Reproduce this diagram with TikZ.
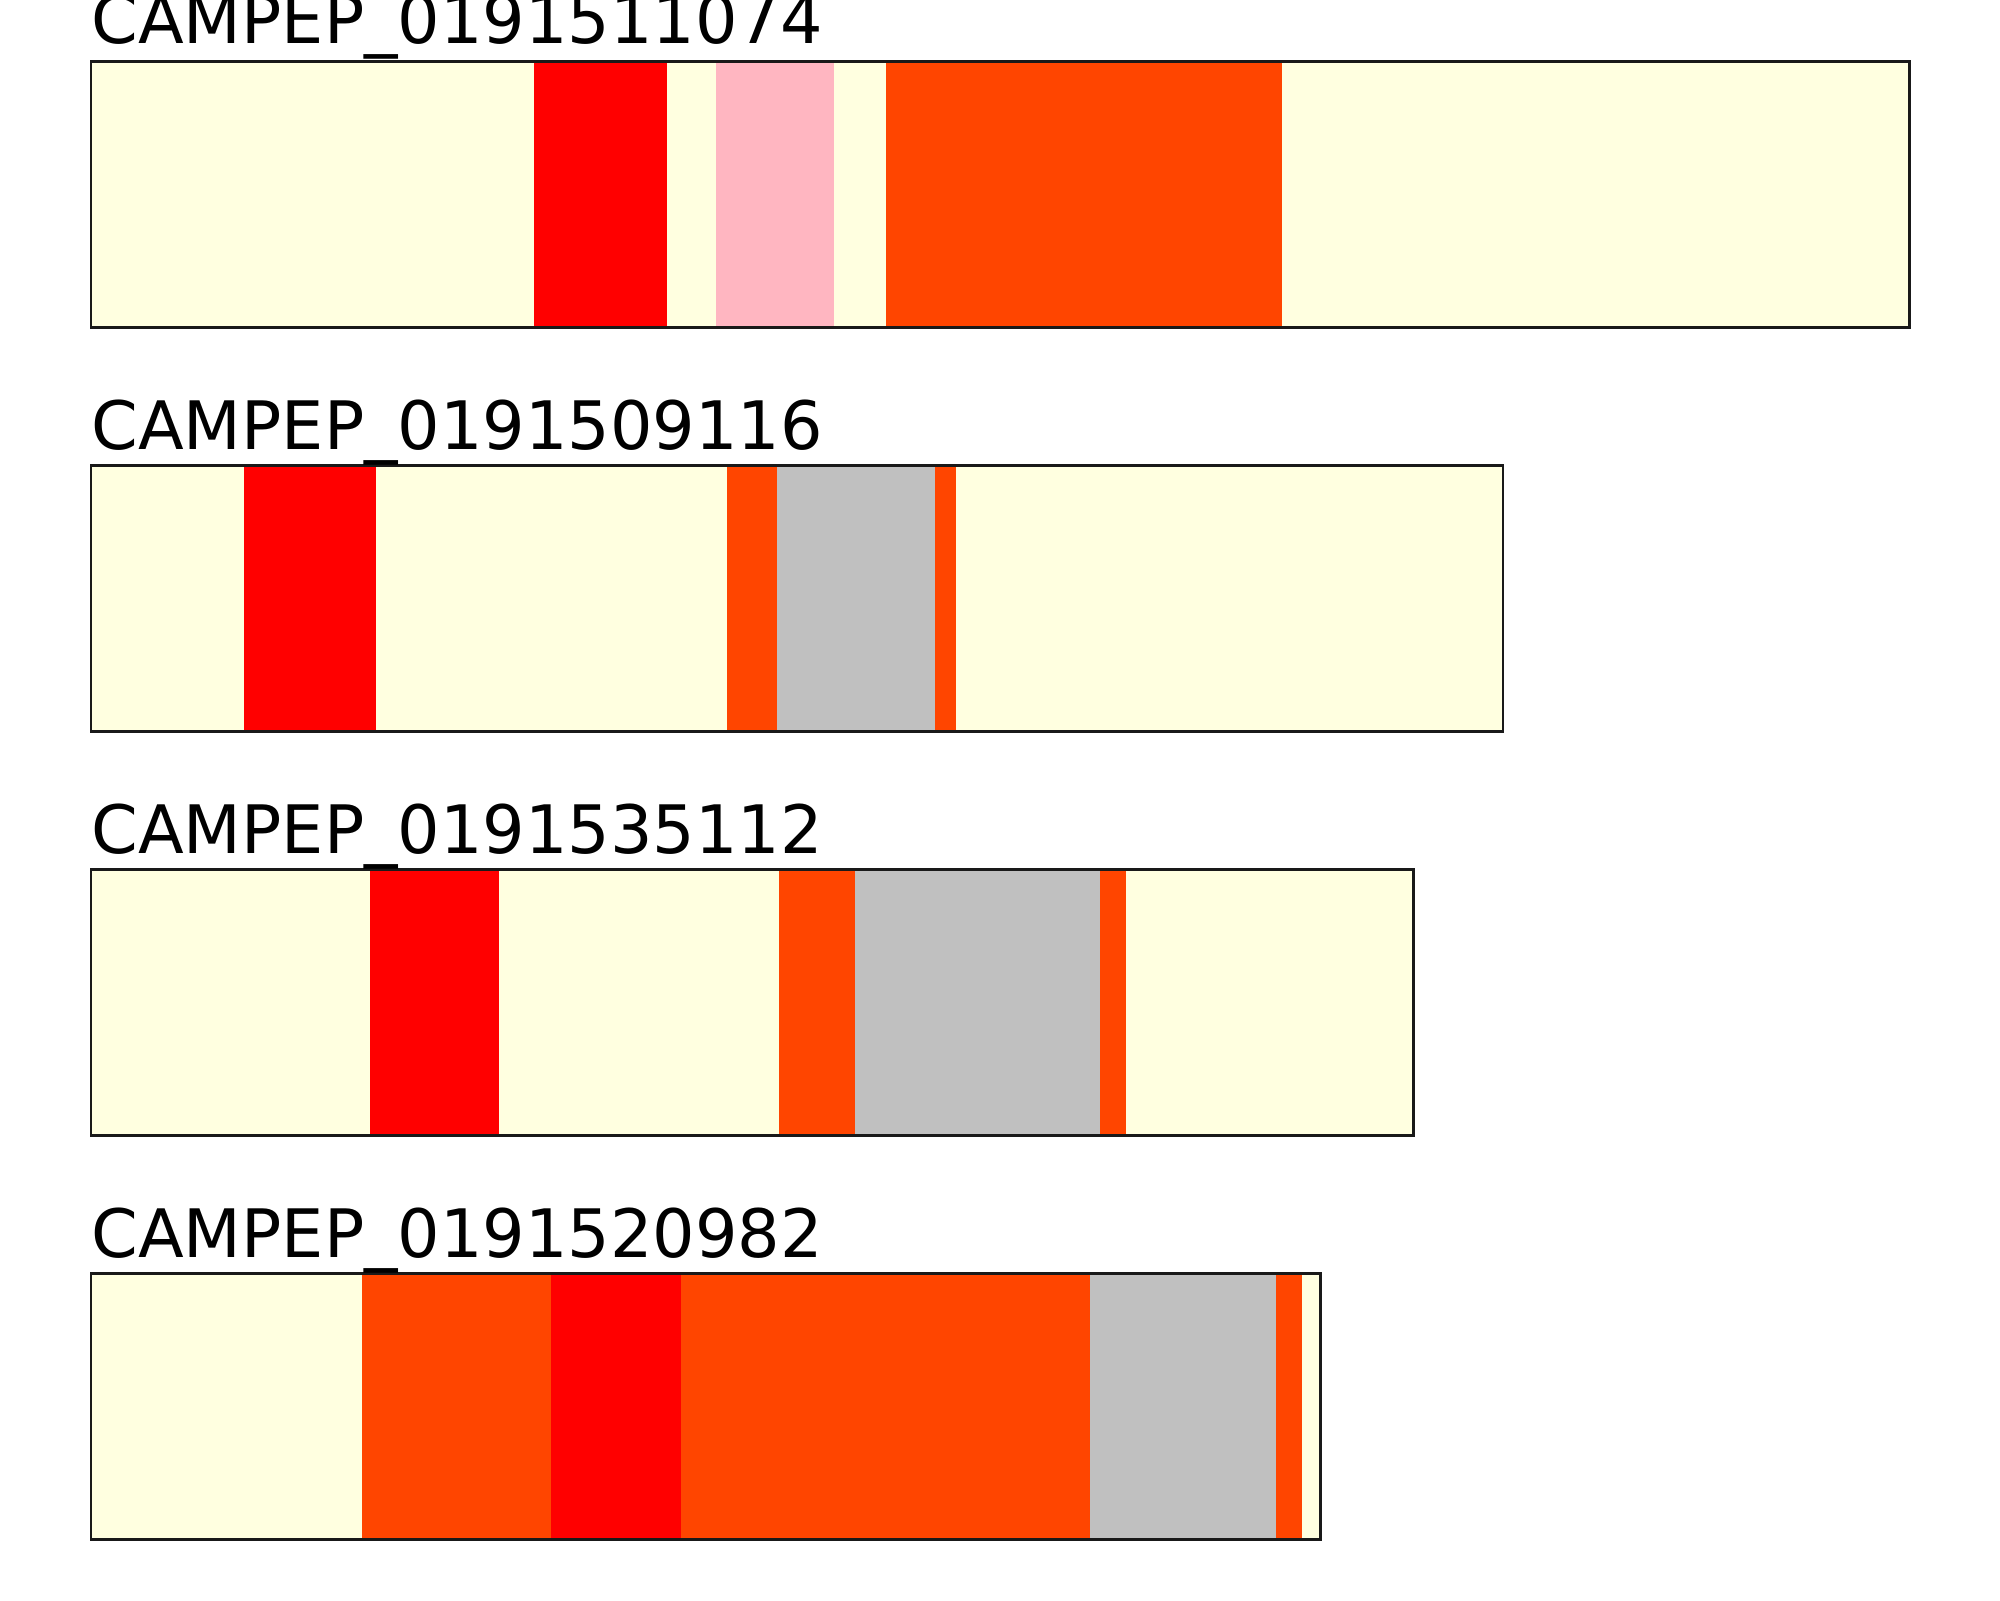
\documentclass[tikz,border=0pt]{standalone}
\usepackage{fontspec}
\setmainfont{DejaVu Sans}
\definecolor{lyel}{HTML}{FFFFE0}
\definecolor{ored}{HTML}{FF4500}
\definecolor{lpink}{HTML}{FFB6C1}
\definecolor{silv}{HTML}{C0C0C0}
\definecolor{pred}{HTML}{FF0000}
\tikzset{
  frame/.style={draw=black!90, line width=1.25pt},
  lbl/.style={anchor=base west, inner sep=0pt, font=\fontsize{33.4pt}{40pt}\selectfont},
}
\begin{document}
\begin{tikzpicture}[x=0.5pt,y=-0.5pt]
\useasboundingbox (0,0) rectangle (2000,1600);
% bar 1
\fill[lyel] (91.2,61.3) rectangle (1909.4,327.3);
\fill[pred] (534.4,61.3) rectangle (667.1,327.3);
\fill[lpink] (716.0,61.3) rectangle (833.8,327.3);
\fill[ored] (886.0,61.3) rectangle (1282.0,327.3);
\draw[frame] (91.2,61.3) rectangle (1909.4,327.3);
\node[lbl] (l1) at (91.2,44) {CAMPEP\_0191511074};
% bar 2
\fill[lyel] (91.2,465.3) rectangle (1503.0,731.3);
\fill[pred] (244.3,465.3) rectangle (376.3,731.3);
\fill[ored] (727.0,465.3) rectangle (777.0,731.3);
\fill[silv] (777.0,465.3) rectangle (935.0,731.3);
\fill[ored] (935.0,465.3) rectangle (955.7,731.3);
\draw[frame] (91.2,465.3) rectangle (1503.0,731.3);
\node[lbl] (l2) at (91.2,449) {CAMPEP\_0191509116};
% bar 3
\fill[lyel] (91.2,869.3) rectangle (1413.6,1135.3);
\fill[pred] (369.9,869.3) rectangle (499.4,1135.3);
\fill[ored] (778.8,869.3) rectangle (855.2,1135.3);
\fill[silv] (855.2,869.3) rectangle (1099.8,1135.3);
\fill[ored] (1099.8,869.3) rectangle (1126.0,1135.3);
\draw[frame] (91.2,869.3) rectangle (1413.6,1135.3);
\node[lbl] (l3) at (91.2,853.3) {CAMPEP\_0191535112};
% bar 4
\fill[lyel] (91.2,1273.3) rectangle (1320.6,1539.3);
\fill[ored] (362.2,1273.3) rectangle (551.0,1539.3);
\fill[pred] (551.0,1273.3) rectangle (681.1,1539.3);
\fill[ored] (681.1,1273.3) rectangle (1090.4,1539.3);
\fill[silv] (1090.4,1273.3) rectangle (1276.0,1539.3);
\fill[ored] (1276.0,1273.3) rectangle (1301.6,1539.3);
\draw[frame] (91.2,1273.3) rectangle (1320.6,1539.3);
\node[lbl] (l4) at (91.2,1257.3) {CAMPEP\_0191520982};
\end{tikzpicture}
\end{document}
